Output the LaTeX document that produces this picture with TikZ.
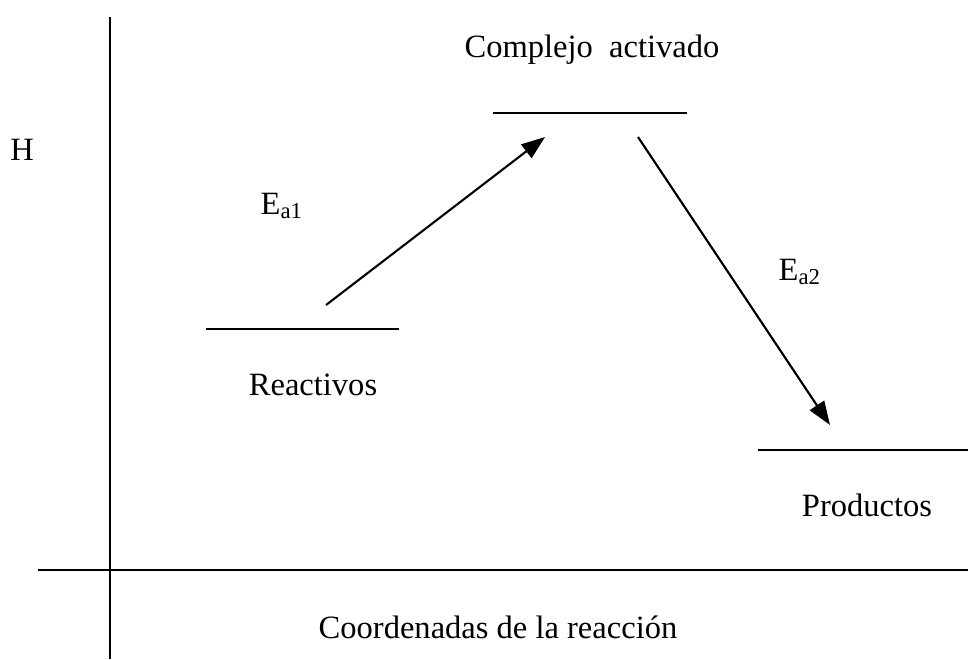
\documentclass[tikz,border=0pt]{standalone}
\usepackage{fontspec}
\setmainfont{Liberation Serif}
\usetikzlibrary{arrows.meta}

\begin{document}
\begin{tikzpicture}[
  x=0.0134cm, y=-0.0134cm,
  line/.style={line width=0.8pt},
  arrow/.style={line width=0.8pt, -{Triangle[length=9pt, width=6.5pt]}},
  txt/.style={inner sep=0pt, font=\fontsize{12.4}{14}\selectfont}
]
\useasboundingbox (0,0) rectangle (968,659);

% Axes
\coordinate (ytop) at (110,17);
\coordinate (ybot) at (110,659);
\coordinate (xleft) at (38,570);
\coordinate (xright) at (968,570);
\draw[line] (ytop) -- (ybot);
\draw[line] (xleft) -- (xright);

% Levels
\coordinate (reacL) at (206,329);
\coordinate (reacR) at (399,329);
\coordinate (compL) at (493,113);
\coordinate (compR) at (687,113);
\coordinate (prodL) at (758,450);
\coordinate (prodR) at (968,450);
\draw[line] (reacL) -- (reacR);
\draw[line] (compL) -- (compR);
\draw[line] (prodL) -- (prodR);

% Labels
\node[txt] (H) at (22,150) {H};
\node[txt] (comp) at (592,50) {Complejo\ \ activado};
\node[txt] (reac) at (313,385) {Reactivos};
\node[txt] (prod) at (867,505) {Productos};
\node[txt] (coord) at (498,627) {Coordenadas de la reacción};
\node[txt] (ea1) at (282,206) {E\textsubscript{a1}};
\node[txt] (ea2) at (800,272) {E\textsubscript{a2}};

% Activation arrows
\coordinate (up1) at (326,305);
\coordinate (up2) at (545,137);
\coordinate (down1) at (638,137);
\coordinate (down2) at (830,425);
\draw[arrow] (up1) -- (up2);
\draw[arrow] (down1) -- (down2);

\end{tikzpicture}
\end{document}
